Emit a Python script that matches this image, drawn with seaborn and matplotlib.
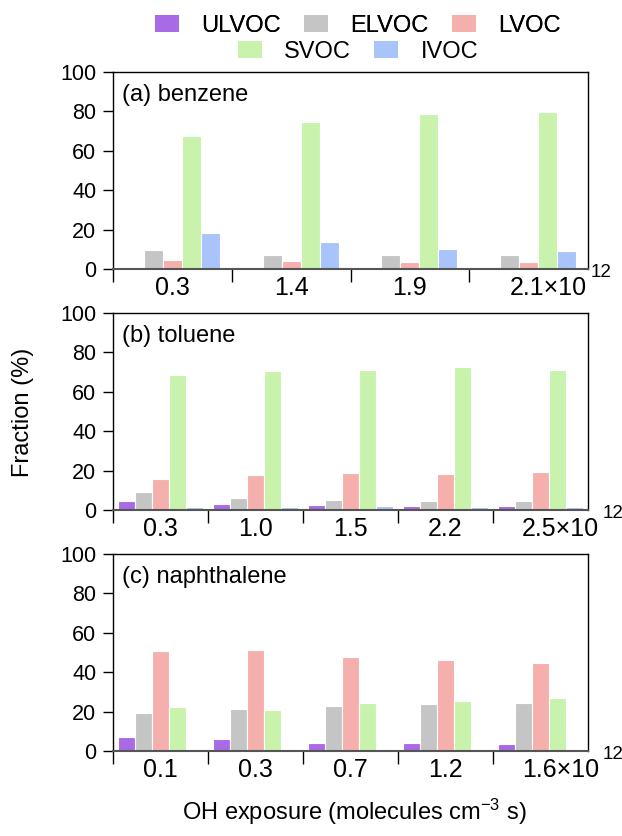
import pandas as pd
import matplotlib
matplotlib.use("Agg")
import matplotlib.pyplot as plt
import matplotlib.transforms as mtrans
import seaborn as sns
from matplotlib.patches import Patch
from matplotlib.ticker import FixedLocator

# ============================================================
# DATA (fraction in %)
# ============================================================
classes = ['ULVOC', 'ELVOC', 'LVOC', 'SVOC', 'IVOC']
colors = ['#a96ae6', '#c5c5c5', '#f5b0ad', '#c9f3ad', '#a9c3fb']

benzene_oh = ['0.3', '1.4', '1.9', '2.1']
benzene_ulvoc = [0.7, 0.7, 0.7, 0.7]
benzene_elvoc = [9.8, 7.3, 7.3, 7.3]
benzene_lvoc = [4.7, 4.2, 3.7, 3.7]
benzene_svoc = [67.3, 74.4, 78.5, 79.5]
benzene_ivoc = [18.5, 13.9, 10.3, 9.3]

toluene_oh = ['0.3', '1.0', '1.5', '2.2', '2.5']
toluene_ulvoc = [4.6, 3.0, 2.5, 2.0, 2.0]
toluene_elvoc = [9.1, 6.1, 5.1, 4.6, 4.6]
toluene_lvoc = [15.7, 17.8, 18.8, 18.3, 19.5]
toluene_svoc = [68.5, 70.6, 71.1, 72.6, 71.1]
toluene_ivoc = [1.5, 1.5, 2.0, 1.5, 1.5]

naph_oh = ['0.1', '0.3', '0.7', '1.2', '1.6']
naph_ulvoc = [6.9, 5.9, 3.9, 3.9, 3.4]
naph_elvoc = [19.2, 21.2, 22.7, 23.7, 24.2]
naph_lvoc = [50.7, 51.2, 47.6, 46.1, 44.6]
naph_svoc = [22.2, 20.7, 24.2, 25.3, 26.8]
naph_ivoc = [0, 0, 0, 0, 0]

panels = [
    ('(a) benzene', benzene_oh,
     [benzene_ulvoc, benzene_elvoc, benzene_lvoc, benzene_svoc, benzene_ivoc], 0.8),
    ('(b) toluene', toluene_oh,
     [toluene_ulvoc, toluene_elvoc, toluene_lvoc, toluene_svoc, toluene_ivoc], 0.9),
    ('(c) naphthalene', naph_oh,
     [naph_ulvoc, naph_elvoc, naph_lvoc, naph_svoc, naph_ivoc], 0.9),
]

sns.set_style("white")
plt.rcParams['font.family'] = ['Liberation Sans', 'DejaVu Sans']
plt.rcParams['mathtext.fontset'] = 'custom'
plt.rcParams['mathtext.rm'] = 'Liberation Sans'
plt.rcParams['mathtext.it'] = 'Liberation Sans'
for k in ['text.color', 'axes.labelcolor', 'xtick.color', 'ytick.color']:
    plt.rcParams[k] = 'black'

fig = plt.figure(figsize=(6.22, 8.36), dpi=100)

left, width, height = 113 / 622, 475 / 622, 197 / 836
bottoms = [1 - 269 / 836, 1 - 510 / 836, 1 - 751 / 836]

for (label, oh, series, w), b in zip(panels, bottoms):
    ax = fig.add_axes([left, b, width, height])
    rows = []
    for cls, vals in zip(classes, series):
        for x, v in zip(oh, vals):
            rows.append({'oh': x, 'cls': cls, 'frac': v})
    df = pd.DataFrame(rows)
    sns.barplot(data=df, x='oh', y='frac', hue='cls', order=oh,
                hue_order=classes, palette=colors, width=w, saturation=1,
                edgecolor='white', linewidth=0.8, legend=False, ax=ax)
    n = len(oh)
    ax.set_xlim(-0.5, n - 0.5)
    ax.set_ylim(0, 100)
    ax.set_yticks([0, 20, 40, 60, 80, 100])
    ax.set_xticks(range(n))
    ticklabels = list(oh)
    ticklabels[-1] = ticklabels[-1] + '\u00d710'
    ax.set_xticklabels(ticklabels)
    ax.xaxis.set_minor_locator(FixedLocator([i - 0.5 for i in range(n)]))
    ax.tick_params(axis='x', which='major', length=0, pad=5, labelsize=18)
    ax.tick_params(axis='x', which='minor', length=9, width=1, direction='out',
                   bottom=True, color='black')
    ax.tick_params(axis='y', length=7, width=1, direction='out', left=True,
                   labelsize=15.5, pad=5, color='black')
    # the last label (with x10) sits shifted to the right
    shift = mtrans.ScaledTranslation(20 / 100, 0, fig.dpi_scale_trans)
    last = ax.get_xticklabels()[-1]
    last.set_transform(last.get_transform() + shift)
    ax.set_xlabel('')
    ax.set_ylabel('')
    for s in ['top', 'right', 'left']:
        ax.spines[s].set_visible(True)
        ax.spines[s].set_color('black')
        ax.spines[s].set_linewidth(1)
    ax.spines['bottom'].set_color('#555555')
    ax.spines['bottom'].set_linewidth(1.5)
    ax.text(0.02, 0.94, label, transform=ax.transAxes, fontsize=17,
            ha='left', va='top')
    exp_tr = mtrans.blended_transform_factory(ax.transData, ax.transAxes) + \
        mtrans.ScaledTranslation(62 / 100, 0, fig.dpi_scale_trans)
    ax.text(n - 1, -0.02, '12', transform=exp_tr, fontsize=13.5,
            ha='left', va='center', clip_on=False)

# legend in two centred rows
handles = [Patch(facecolor=c, edgecolor='none') for c in colors]
leg_kw = dict(loc='center', frameon=False, fontsize=17, handlelength=1.0,
              handleheight=0.7, handletextpad=0.95, columnspacing=1.0,
              borderaxespad=0, borderpad=0)
leg1 = fig.legend(handles[:3], classes[:3], ncol=3,
                  bbox_to_anchor=(358 / 622, 1 - 26 / 836), **leg_kw)
fig.add_artist(leg1)
fig.legend(handles[3:], classes[3:], ncol=2,
           bbox_to_anchor=(358 / 622, 1 - 52 / 836), **leg_kw)

fig.text(23 / 622, 1 - 412 / 836, 'Fraction (%)', rotation=90, fontsize=17,
         ha='center', va='center')
fig.text(354 / 622, 1 - 812 / 836, 'OH exposure (molecules cm$^{-3}$ s)',
         fontsize=17, ha='center', va='center')

fig.savefig('out.png', dpi=100)
